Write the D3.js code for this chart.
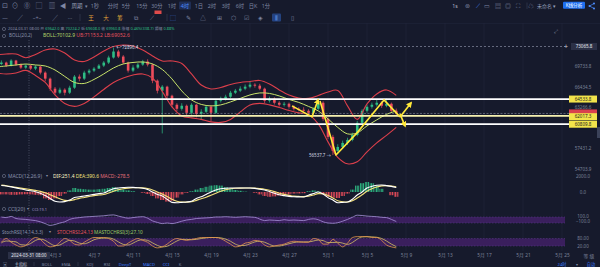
<!DOCTYPE html>
<html>
<head>
<meta charset="utf-8">
<script src="https://cdn.jsdelivr.net/npm/d3@7/dist/d3.min.js"></script>
<style>
  html, body { margin: 0; padding: 0; background: #161a2c; overflow: hidden; }
  svg { display: block; font-family: "Noto Sans", "Noto Sans CJK SC", sans-serif; }
</style>
</head>
<body>
<svg id="chart" width="600" height="267"></svg>
<script>
// candles, one every 12h
const firstCandle = new Date(2024, 2, 28, 12);
const firstOpen = 70100;
const closes = [
  70344, 69845, 70678, 70011, 69514, 69845, 69349, 69679, 68694, 67723,
  66135, 65510, 65978, 65510, 66292, 68045, 67723, 68694, 69021, 69349,
  69845, 70344, 71183, 72204, 71352, 70344, 69021, 69514, 70011, 70511,
  70011, 67402, 65821, 66449, 65045, 63671, 63069, 63520, 62473, 63671,
  62325, 62622, 63369, 62473, 64278, 64584, 64891, 65510, 65821, 66135,
  66449, 66765, 66607, 66135, 64278, 64584, 63974, 63671, 63822, 63369,
  63069, 62920, 62771, 62473, 63069, 63974, 61590, 59015, 57087, 57631,
  58180, 58597, 59296, 61008, 62771, 63369, 63671, 63974, 63520, 63822,
  62771, 62380
];
const highs = [
  70700, 70500, 70900, 70800, 70200, 70100, 70000, 69900, 69800, 68900,
  67900, 66400, 66300, 66200, 66600, 68300, 68400, 69000, 69300, 69600,
  70100, 70600, 71500, 72890.4, 72500, 71600, 70500, 69900, 70300, 70800,
  70900, 70200, 67600, 66700, 66600, 65200, 63900, 63900, 63700, 63900,
  63800, 63000, 63600, 63600, 64500, 64900, 65200, 65800, 66100, 66500,
  66800, 67200, 67000, 66900, 66300, 64900, 64800, 64200, 64100, 64000,
  63600, 63300, 63300, 63000, 63300, 64300, 64200, 61800, 59300, 58000,
  58500, 58900, 59600, 61300, 63000, 63700, 64000, 64500, 64200, 64600,
  64000, 63100
];
const lows = [
  69900, 69600, 69700, 69800, 69300, 69300, 69100, 69100, 68400, 67300,
  65800, 65200, 65300, 65100, 65300, 66100, 67300, 67500, 68400, 68800,
  69300, 69600, 70100, 71000, 71100, 70100, 68700, 68800, 69300, 69800,
  69700, 67000, 65400, 59500, 64700, 63300, 62700, 62800, 62100, 62200,
  61800, 61500, 62400, 61200, 62300, 64000, 64300, 64700, 65300, 65600,
  65900, 66200, 66300, 65900, 63900, 64000, 63700, 63400, 63400, 63100,
  62800, 62700, 62500, 62200, 62300, 62900, 61300, 58700, 56537.7, 56800,
  57400, 57900, 58400, 59100, 60800, 62500, 63100, 63400, 63200, 63300,
  62500, 62200
];

// BOLL(20,2), one reading per day
const bandStart = new Date(2024, 2, 28);
const bollUp = [
  71616, 71785, 71785, 71153.2, 71700, 72465, 72636, 71954, 70776, 70526,
  71279, 72294, 73066, 73325, 73152, 72465, 71447, 70609, 70609, 70194,
  68477, 66722, 66096, 66330, 66801, 67117, 67275, 67434, 66880, 65940,
  65167, 64707, 64631, 65090, 65629, 65862, 63497, 61507, 63798, 65320,
  65940, 65090
];
const bollMid = [
  69617, 69781, 69946, 70102.9, 69946, 69781, 69126, 68074, 67117, 66959,
  67593, 68477, 69452, 70111, 70360, 70443, 70111, 69207, 67673, 65784,
  64403, 63722, 63497, 63647, 64099, 64631, 65167, 65475, 65398, 65013,
  64479, 64024, 63422, 62753, 61580, 60357, 59439, 59579, 60571, 61435,
  62237, 62753
];
const bollLow = [
  68638, 68477, 68638, 69052.6, 68235, 67117, 65167, 63873, 63422, 63873,
  64860, 66017, 67117, 67833, 68315, 68477, 67833, 65707, 63347, 62017,
  61725, 61507, 61145, 61073, 61507, 62605, 63647, 63873, 63647, 63273,
  62827, 62457, 62237, 60857, 58327, 56233, 55378, 55640, 56968, 58190,
  59229, 60357
];

// MACD(12,26,9)
const dif = [
  820, 740, 640, 520, 380, 251.4, 150, 40, -150, -450,
  -800, -1150, -1250, -1200, -1000, -700, -600, -500, -400, -300,
  -200, -125, 150, 400, 500, 560, 600, 580, 540, 470,
  300, 0, -300, -500, -900, -1300, -1350, -1300, -1250, -1150,
  -800, -600, -300, 0, 250, 400, 470, 500, 500, 500,
  500, 500, 450, 350, 250, 50, -150, -350, -450, -550,
  -600, -610, -625, -400, -200, 0, -250, -700, -1000, -1350,
  -1300, -1250, -900, -375, 0, 500, 700, 850, 875, 800,
  700, 550
];
const dea = [
  860, 780, 680, 580, 480, 390.6, 300, 200, 80, -100,
  -350, -600, -850, -1050, -1080, -950, -800, -680, -560, -450,
  -380, -320, -120, 100, 280, 400, 480, 530, 540, 520,
  430, 250, 0, -250, -550, -900, -1150, -1250, -1270, -1220,
  -1050, -850, -650, -400, -150, 100, 280, 400, 460, 490,
  500, 500, 480, 420, 340, 220, 50, -150, -300, -420,
  -520, -550, -580, -520, -380, -200, -220, -450, -750, -1100,
  -1220, -1250, -1100, -750, -350, 100, 400, 620, 760, 800,
  750, 650
];
const macdHist = [
  -300, -300, -350, -350, -300, -278.5, -300, -350, -400, -800,
  -1000, -800, -500, -200, 200, 500, 400, 350, 300, 300,
  350, 400, 500, 600, 450, 300, 200, 100, 0, -100,
  -250, -500, -800, -1000, -1200, -1100, -700, -300, -100, 100,
  300, 500, 650, 800, 850, 800, 600, 400, 250, 150,
  50, 0, -100, -300, -500, -600, -550, -450, -350, -300,
  -200, -180, -150, 100, 200, 100, -300, -600, -700, -750,
  -500, -200, 300, 800, 1100, 1250, 1100, 800, 400, 0,
  -400, -600
];

// CCI(20)
const cci = [
  100, 80, 120, 50, 30, 19.1, 0, -20, -60, -120,
  -180, -150, -100, -60, 20, 60, 80, 100, 110, 120,
  130, 140, 160, 170, 130, 90, 60, 80, 100, 110,
  60, -30, -80, -120, -100, -120, -90, -40, 0, 20,
  50, 60, 70, 80, 100, 100, 110, 100, 90, 100,
  110, 100, 90, 30, -20, 0, -10, -20, 10, -10,
  0, -10, -20, 20, 40, 10, -60, -100, -110, -90,
  -40, 20, 90, 160, 150, 130, 120, 110, 90, 80,
  20, -50
];

// StochRSI(14,14,3,3)
const stochRsi = [
  50, 80, 50, 28, 13, 24.13, 65, 88, 73, 35,
  13, 20, 50, 80, 65, 35, 28, 50, 73, 88,
  88, 88, 80, 58, 20, 20, 43, 65, 80, 65,
  50, 20, 5, 13, 35, 65, 80, 73, 65, 73,
  80, 88, 88, 88, 88, 80, 58, 35, 13, 20,
  43, 50, 65, 58, 28, 13, 20, 28, 35, 50,
  58, 54, 50, 50, 80, 73, 35, 35, 73, 43,
  13, 43, 88, 95, 95, 95, 88, 88, 65, 28,
  13, 5
];
const stochMa = [
  45, 60, 57, 53, 30, 27.1, 40, 65, 75, 65,
  40, 23, 28, 50, 65, 60, 43, 38, 50, 70,
  80, 83, 85, 75, 53, 33, 28, 43, 63, 70,
  65, 45, 25, 13, 18, 38, 60, 73, 73, 70,
  73, 80, 85, 88, 88, 85, 75, 58, 35, 23,
  25, 38, 53, 58, 50, 33, 20, 20, 28, 38,
  48, 52, 53, 53, 60, 68, 63, 48, 48, 50,
  43, 33, 48, 75, 93, 95, 93, 90, 80, 60,
  35, 15
];

// drawn levels and the yellow arrows
const levels = [64533.8, 62017.3, 60809.8];
const lastPrice = 62380;
const crossTime = new Date(2024, 2, 31, 8);
const crossPrice = 73065.8;
const arrowA = [["2024-04-27T07:25", 63497], ["2024-04-29T08:37", 61871], ["2024-04-29T23:22", 64403]];
const arrowB = [["2024-04-30T04:18", 64251], ["2024-05-01T19:41", 56537.7], ["2024-05-03T23:23", 59579],
                ["2024-05-06T17:51", 64403], ["2024-05-08T09:14", 61871]];
const arrowC = [["2024-05-08T09:14", 61871], ["2024-05-09T12:18", 63948]];
const arrowD = [["2024-05-08T09:14", 62311], ["2024-05-08T21:32", 60571]];

// axes
const dateTicks = ["2024-04-03", "2024-04-07", "2024-04-11", "2024-04-15", "2024-04-19", "2024-04-23", "2024-04-27",
                   "2024-05-01", "2024-05-05", "2024-05-09", "2024-05-13", "2024-05-17", "2024-05-21", "2024-05-25"];
const dateLabels = ["4月 3", "4月 7", "4月 11", "4月 15", "4月 19", "4月 23", "4月 27",
                    "5月 1", "5月 5", "5月 9", "5月 13", "5月 17", "5月 21", "5月 25"];
const priceTicks = [69733.8, 66434.5, 63266.6, 57431.2, 54703.9];

const UP = "#2ebd85", DOWN = "#ee4d5c", GREY = "#7c8399", BG = "#161a2c";
const HALF_DAY = 12 * 36e5;
const plotR = 565;
const parseDay = d3.timeParse("%Y-%m-%d");
const parseT = d3.timeParse("%Y-%m-%dT%H:%M");

const svg = d3.select("#chart");
svg.append("rect").attr("width", 600).attr("height", 267).attr("fill", BG);

const x = d3.scaleTime().domain([new Date(2024, 3, 7), new Date(2024, 4, 25)]).range([94, 562]);
const y = d3.scaleLog().domain([54703.9, 73065.8]).range([169, 46.5]);
const yMacd = d3.scaleLinear().domain([-2000, 2000]).range([208, 176]);
const yCci = d3.scaleLinear().domain([-300, 300]).range([229, 211]);
const yRsi = d3.scaleLinear().domain([0, 100]).range([248.5, 236]);

const defs = svg.append("defs");
defs.append("clipPath").attr("id", "mainClip")
  .append("rect").attr("x", 0).attr("y", 39).attr("width", plotR).attr("height", 132);
defs.append("marker").attr("id", "arrowHead")
  .attr("viewBox", "0 0 10 10").attr("refX", 7).attr("refY", 5)
  .attr("markerWidth", 6).attr("markerHeight", 6).attr("markerUnits", "userSpaceOnUse")
  .attr("orient", "auto")
  .append("path").attr("d", "M0,0L10,5L0,10z").attr("fill", "#ffe83a");
[["hatchUp", UP], ["hatchDown", DOWN]].forEach(([id, c]) => {
  const p = defs.append("pattern").attr("id", id).attr("patternUnits", "userSpaceOnUse")
    .attr("width", 1.6).attr("height", 4);
  p.append("rect").attr("width", 1).attr("height", 4).attr("fill", c);
});

// grid
const tickDates = dateTicks.map(parseDay);
svg.append("g").selectAll("line").data(tickDates).join("line")
  .attr("x1", d => x(d)).attr("x2", d => x(d)).attr("y1", 23).attr("y2", 251)
  .attr("stroke", "#1f2438").attr("stroke-width", 0.8);
svg.append("line").attr("x1", 0).attr("x2", 600).attr("y1", 23.5).attr("y2", 23.5)
  .attr("stroke", "#20253a").attr("stroke-width", 0.6);

// ---------- main chart
const candles = closes.map((c, i) => ({
  t: new Date(firstCandle.getTime() + i * HALF_DAY),
  o: i ? closes[i - 1] : firstOpen, c, h: highs[i], l: lows[i]
}));
const gMain = svg.append("g").attr("clip-path", "url(#mainClip)");

gMain.selectAll("line.wick").data(candles).join("line").attr("class", "wick")
  .attr("x1", d => x(d.t)).attr("x2", d => x(d.t))
  .attr("y1", d => y(d.h)).attr("y2", d => y(d.l))
  .attr("stroke", d => d.c >= d.o ? UP : DOWN).attr("stroke-width", 0.7);
gMain.selectAll("rect.body").data(candles).join("rect").attr("class", "body")
  .attr("x", d => x(d.t) - 1.3).attr("width", 2.6)
  .attr("y", d => y(Math.max(d.o, d.c)))
  .attr("height", d => Math.max(0.8, Math.abs(y(d.o) - y(d.c))))
  .attr("fill", d => d.c >= d.o ? UP : DOWN);

const bandLine = vals => d3.line()
  .x((v, j) => x(d3.timeDay.offset(bandStart, j)))
  .y(v => y(v)).curve(d3.curveCatmullRom)(vals);
gMain.append("path").attr("d", bandLine(bollUp)).attr("fill", "none").attr("stroke", "#dc3f4b").attr("stroke-width", 1.1);
gMain.append("path").attr("d", bandLine(bollLow)).attr("fill", "none").attr("stroke", "#dc3f4b").attr("stroke-width", 1.1);
gMain.append("path").attr("d", bandLine(bollMid)).attr("fill", "none").attr("stroke", "#c8e36a").attr("stroke-width", 1);

// crosshair
svg.append("line").attr("x1", 0).attr("x2", plotR).attr("y1", y(crossPrice)).attr("y2", y(crossPrice))
  .attr("stroke", "#9aa0b5").attr("stroke-width", 0.6).attr("stroke-dasharray", "2,2");
svg.append("line").attr("x1", x(crossTime)).attr("x2", x(crossTime)).attr("y1", 40).attr("y2", 251)
  .attr("stroke", "#5d6479").attr("stroke-width", 0.7).attr("stroke-dasharray", "1,1.5");

// last price
svg.append("line").attr("x1", 0).attr("x2", 569).attr("y1", y(lastPrice)).attr("y2", y(lastPrice))
  .attr("stroke", "#8d93a8").attr("stroke-width", 0.6).attr("stroke-dasharray", "2,1.5");

// drawn horizontal levels
svg.append("g").selectAll("line").data(levels).join("line")
  .attr("x1", 0).attr("x2", 569).attr("y1", d => y(d)).attr("y2", d => y(d))
  .attr("stroke", (d, i) => i === 1 ? "#f6f1b0" : "#ffffff").attr("stroke-width", 1.7);

// yellow arrows
const arrowLine = d3.line().x(p => x(parseT(p[0]))).y(p => y(p[1]));
[[arrowA, true], [arrowB, false], [arrowC, true], [arrowD, true]].forEach(([pts, head]) => {
  const p = svg.append("path").attr("d", arrowLine(pts)).attr("fill", "none")
    .attr("stroke", "#ffe83a").attr("stroke-width", 1.6).attr("stroke-linejoin", "round");
  if (head) p.attr("marker-end", "url(#arrowHead)");
});

// high / low marks
const hiIdx = d3.maxIndex(highs), loIdx = d3.minIndex(lows);
svg.append("text").attr("x", x(candles[hiIdx].t) + 3).attr("y", y(highs[hiIdx]) + 1.5)
  .attr("font-size", 4.4).attr("fill", "#d5d8e2").text("← " + highs[hiIdx].toFixed(1));
svg.append("text").attr("x", x(candles[loIdx].t) - 2).attr("y", y(lows[loIdx]) + 1.5)
  .attr("text-anchor", "end").attr("font-size", 4.4).attr("fill", "#d5d8e2").text(lows[loIdx].toFixed(1) + " →");

// right axes
const axisText = g => {
  g.select(".domain").remove();
  g.selectAll(".tick line").remove();
  g.selectAll("text").attr("fill", GREY).attr("font-size", 4.5).attr("text-anchor", "middle")
    .attr("x", 0).attr("font-family", "Noto Sans, sans-serif");
};
svg.append("g").attr("transform", "translate(583,0)")
  .call(d3.axisRight(y).tickValues(priceTicks).tickFormat(d3.format(".1f")).tickSize(0))
  .call(axisText);

// price boxes
const box = (val, yc, bg, fg) => {
  svg.append("rect").attr("x", 569).attr("y", yc - 3.5).attr("width", 28).attr("height", 7).attr("fill", bg);
  if (fg) svg.append("text").attr("x", 583).attr("y", yc + 1.6).attr("text-anchor", "middle")
    .attr("font-size", 4.5).attr("fill", fg).text(val.toFixed(1));
};
box(lastPrice, y(lastPrice) - 0.5, "#d9404e", null);
box(levels[0], y(levels[0]), "#f2e34b", "#1c1c1c");
box(levels[1], y(levels[1]) + 0.8, "#f2e34b", "#1c1c1c");
box(levels[2], y(levels[2]), "#f2e34b", "#1c1c1c");
svg.append("rect").attr("x", 571).attr("y", y(crossPrice) - 3.5).attr("width", 26).attr("height", 7).attr("fill", "#2b3046");
svg.append("text").attr("x", 584).attr("y", y(crossPrice) + 1.6).attr("text-anchor", "middle")
  .attr("font-size", 4.5).attr("fill", "#e8eaf0").text(crossPrice.toFixed(1));
svg.append("text").attr("x", 566).attr("y", y(crossPrice) + 2.2).attr("text-anchor", "middle")
  .attr("font-size", 7).attr("fill", "#c9ccd8").text("+");
svg.append("rect").attr("x", 597).attr("y", 127).attr("width", 3).attr("height", 11).attr("fill", "#3b4259");
svg.append("text").attr("x", 556).attr("y", 33).attr("text-anchor", "middle")
  .attr("font-size", 5).attr("fill", "#8d93a8").text("⤢");

// ---------- MACD
const gMacd = svg.append("g");
gMacd.selectAll("rect").data(macdHist).join("rect")
  .attr("x", (v, i) => x(candles[i].t) - 2.2).attr("width", 4.4)
  .attr("y", v => yMacd(Math.max(0, v))).attr("height", v => Math.abs(yMacd(v) - yMacd(0)))
  .attr("fill", v => v >= 0 ? "url(#hatchUp)" : "url(#hatchDown)");
const seriesLine = (vals, sc) => d3.line().x((v, i) => x(candles[i].t)).y(v => sc(v)).curve(d3.curveMonotoneX)(vals);
gMacd.append("path").attr("d", seriesLine(dea, yMacd)).attr("fill", "none").attr("stroke", "#f4e27c").attr("stroke-width", 1.1);
gMacd.append("path").attr("d", seriesLine(dif, yMacd)).attr("fill", "none").attr("stroke", "#ffffff").attr("stroke-width", 1.1);
svg.append("g").attr("transform", "translate(583,0)")
  .call(d3.axisRight(yMacd).tickValues([2000, 0]).tickFormat(d3.format(".1f")).tickSize(0))
  .call(axisText);

// ---------- CCI
svg.append("rect").attr("x", 0).attr("width", plotR).attr("y", yCci(100)).attr("height", yCci(-100) - yCci(100))
  .attr("fill", "#3a1f5d");
[100, -100].forEach(v => svg.append("line").attr("x1", 0).attr("x2", plotR).attr("y1", yCci(v)).attr("y2", yCci(v))
  .attr("stroke", "#5c3a8c").attr("stroke-width", 0.5).attr("stroke-dasharray", "1.5,1.5"));
svg.append("path").attr("d", seriesLine(cci, yCci)).attr("fill", "none").attr("stroke", "#a792d8").attr("stroke-width", 0.8);
svg.append("g").attr("transform", "translate(583,0)")
  .call(d3.axisRight(yCci).tickValues([100, -100]).tickFormat(d3.format(".1f")).tickSize(0))
  .call(axisText)
  .call(g => g.selectAll("text").attr("dy", (d, i) => i ? "-0.05em" : "0.2em"));

// ---------- StochRSI
svg.append("rect").attr("x", 0).attr("width", plotR).attr("y", yRsi(80)).attr("height", yRsi(20) - yRsi(80))
  .attr("fill", "#3a1f5d");
[80, 20].forEach(v => svg.append("line").attr("x1", 0).attr("x2", plotR).attr("y1", yRsi(v)).attr("y2", yRsi(v))
  .attr("stroke", "#5c3a8c").attr("stroke-width", 0.5).attr("stroke-dasharray", "1.5,1.5"));
svg.append("path").attr("d", seriesLine(stochMa, yRsi)).attr("fill", "none").attr("stroke", "#d7c463").attr("stroke-width", 0.8);
svg.append("path").attr("d", seriesLine(stochRsi, yRsi)).attr("fill", "none").attr("stroke", "#e5954f").attr("stroke-width", 0.8);
svg.append("g").attr("transform", "translate(583,0)")
  .call(d3.axisRight(yRsi).tickValues([80, 20]).tickFormat(d3.format(".2f")).tickSize(0))
  .call(axisText);

// ---------- date axis
svg.append("g").attr("transform", "translate(0,253)")
  .call(d3.axisBottom(x).tickValues(tickDates).tickFormat((d, i) => dateLabels[i]).tickSize(0).tickPadding(0))
  .call(g => g.select(".domain").remove())
  .selectAll("text").attr("fill", GREY).attr("font-size", 4.8).attr("dy", "0.75em")
  .attr("font-family", "Noto Sans, Noto Sans CJK SC, sans-serif");
svg.append("rect").attr("x", x(crossTime) - 21).attr("y", 252).attr("width", 42).attr("height", 7).attr("fill", "#2b3046");
svg.append("text").attr("x", x(crossTime)).attr("y", 257.2).attr("text-anchor", "middle")
  .attr("font-size", 4.4).attr("fill", "#e8eaf0").text(d3.timeFormat("%Y-%m-%d %H:%M")(crossTime));
svg.append("text").attr("x", 589).attr("y", 257.5).attr("text-anchor", "middle")
  .attr("font-size", 4.8).attr("fill", GREY).text("等 级");

// ---------- text helpers
function txt(xp, yp, s, color, size, anchor) {
  return svg.append("text").attr("x", xp).attr("y", yp).attr("fill", color)
    .attr("font-size", size).attr("text-anchor", anchor || "middle").text(s);
}
function fitLine(parts, x0, yb, width) {
  const t = svg.append("text").attr("x", x0).attr("y", yb).attr("font-size", 10);
  parts.forEach(([s, c]) => t.append("tspan").attr("fill", c).text(s));
  const len = t.node().getComputedTextLength();
  t.attr("font-size", 10 * width / len);
  return t;
}
function eye(xc, yc) {
  svg.append("circle").attr("cx", xc).attr("cy", yc).attr("r", 1.6)
    .attr("fill", "none").attr("stroke", "#8a91a8").attr("stroke-width", 0.5);
}

// ---------- top toolbar
const TB = "#7f87a3";
[[5, "⊡"], [15, "⊙"], [27, "⓪"], [39, "▢"], [52, "▥"], [63, "◀"]].forEach(([p, s]) => txt(p, 8, s, TB, 6.5));
txt(77, 7.8, "周期", "#9aa2bd", 5.5); txt(86.5, 7.6, "▾", TB, 4.5);
const periods = ["1秒", "分时", "5分", "15分", "30分", "1时", "4时", "1日", "2时", "3时", "6时", "日K", "1分"];
const periodX = [95, 113, 126, 142, 157, 172, 185, 199, 212, 226, 240, 253, 266];
svg.append("rect").attr("x", 179).attr("y", 1.5).attr("width", 12).attr("height", 8).attr("rx", 1).attr("fill", "#1f2e55");
periods.forEach((p, i) => txt(periodX[i], 7.8, p, i === 6 ? "#4b8cff" : TB, 5.3));
txt(455, 7.8, "1s", "#b0b6c8", 5.3);
[[467, "⊛"], [478, "⟋"], [487, "▭"], [498, "▤"], [508, "◎"], [518, "⛶"]].forEach(([p, s], i) =>
  txt(p, 8, s, i === 1 ? "#4b8cff" : TB, 6));
svg.append("line").attr("x1", 527).attr("x2", 527).attr("y1", 2.5).attr("y2", 9).attr("stroke", "#3a4058").attr("stroke-width", 0.6);
txt(531, 7.8, "☁", TB, 5.5);
txt(537, 7.8, "未命名 ▾", "#9aa2bd", 5, "start");
svg.append("rect").attr("x", 563).attr("y", 1.8).attr("width", 22).attr("height", 7).attr("rx", 1).attr("fill", "#1e6ff0");
txt(574, 7.3, "K线分析", "#ffffff", 4.6);
svg.append("path").attr("d", "M594,3.5 L589.5,6 L594,8.5").attr("fill", "none").attr("stroke", "#4b8cff").attr("stroke-width", 0.7);
[[594, 3.5], [589.5, 6], [594, 8.5]].forEach(([a, b]) => svg.append("circle").attr("cx", a).attr("cy", b).attr("r", 1).attr("fill", "#4b8cff"));

// drawing toolbar
[[5, "—"], [20, "╱"], [37, "–+–"], [55, "╱"], [70, "···"]].forEach(([p, s]) => txt(p, 19.5, s, TB, 5.5));
[80, 167].forEach(p => svg.append("line").attr("x1", p).attr("x2", p).attr("y1", 14).attr("y2", 21)
  .attr("stroke", "#3a4058").attr("stroke-width", 0.6));
txt(91, 19.8, "王", "#e3a23a", 5.5); txt(106, 19.8, "大", "#e3a23a", 5.5); txt(120, 19.8, "筹", "#e8b43a", 5.5);
txt(136, 20, "⧉", TB, 6); txt(152, 20, "⟋", TB, 6);
svg.append("rect").attr("x", 154.5).attr("y", 10.5).attr("width", 7).attr("height", 3.5).attr("fill", "#e04b4b");
svg.append("rect").attr("x", 272).attr("y", 13.5).attr("width", 9).attr("height", 8).attr("rx", 1).attr("fill", "#24427e");
[[173, "⬚", "#4b8cff"], [188, "✎", TB], [203, "△", TB], [219, "⊞", TB], [233, "⬡", TB],
 [246, "☑", TB], [260, "◈", TB], [276.5, "⫼", "#6ea4ff"], [292, "▯", TB]].forEach(([p, s, c]) => txt(p, 20, s, c, 6));

// ---------- legend lines
const G = "#8b93ad", GREEN = "#2ebd85", RED = "#e5535f";
eye(4, 29);
fitLine([["2024-03-31 08:00 ", G], ["开 ", G], ["69642.0 ", GREEN], ["高 ", G], ["70224.2 ", GREEN],
  ["低 ", G], ["69608.0 ", GREEN], ["收 ", G], ["69960.8 ", GREEN], ["涨幅 ", G],
  ["0.46%(338.7) ", GREEN], ["振幅 ", G], ["0.88%", GREEN]], 8, 30.4, 167);
eye(4, 36);
fitLine([["BOLL(20,2)", G]], 9, 37.4, 23);
fitLine([["BOLL:70102.9 ", "#b8d96a"], ["UB:71153.2 ", RED], ["LB:69052.6", RED]], 43, 37.4, 87);

eye(4, 176);
fitLine([["MACD(12,26,9)", G]], 8, 177.5, 34);
txt(47, 177.3, "▾", G, 4);
fitLine([["DIF:251.4 ", "#fff6c8"], ["DEA:390.6 ", "#f4e27c"], ["MACD:-278.5", "#e5707a"]], 53, 177.5, 77);

eye(4, 209);
fitLine([["CCI(20)", G]], 8, 210.5, 17);
txt(28, 210.3, "▾", G, 4);
fitLine([["CCI:19.1", "#a094c8"]], 32, 210.5, 15);

fitLine([["StochRSI(14,14,3,3)", G]], 2, 233.5, 41);
txt(50, 233.3, "▾", G, 4);
fitLine([["STOCHRSI:24.13 ", RED], ["MASTOCHRSI(3):27.10", "#9ccc65"]], 57, 233.5, 86);

// ---------- bottom bar
const BY = 265.8, BS = 4.2;
txt(5, BY, "▣", TB, BS);
txt(21, BY, "主指标", "#c3c8d6", BS);
[[47, "BOLL", TB], [66, "EMA", TB], [90, "KDJ", TB], [107, "RSI", TB], [125, "DeepT", "#3a7bff"],
 [149, "MACD", "#3a7bff"], [166, "CCI", "#3a7bff"], [180, "K", TB]].forEach(([p, s, c]) => txt(p, BY, s, c, BS));
[34, 78].forEach(p => svg.append("line").attr("x1", p).attr("x2", p).attr("y1", 262).attr("y2", 266)
  .attr("stroke", "#3a4058").attr("stroke-width", 0.6));
txt(562, BY, "24时", "#3a7bff", BS); txt(577, BY, "▾", TB, BS); txt(591, BY, "自动", "#3a7bff", BS);
</script>
</body>
</html>
